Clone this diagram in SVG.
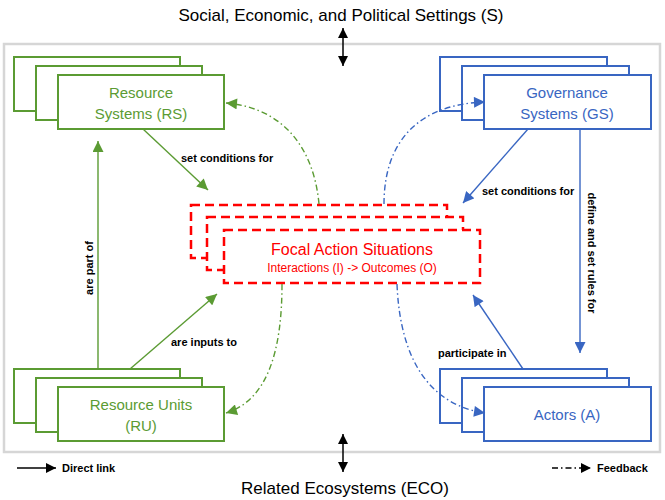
<svg xmlns="http://www.w3.org/2000/svg" width="665" height="500" viewBox="0 0 665 500">
<style>
text{font-family:"Liberation Sans",Arial,sans-serif}
.title{font-size:17px;fill:#000;text-anchor:middle}
.g{fill:#fff;stroke:#5b9b33;stroke-width:2}
.b{fill:#fff;stroke:#3966c2;stroke-width:2}
.r{fill:#fff;stroke:#ff0000;stroke-width:2.5;stroke-dasharray:9 5}
.gt{font-size:15px;fill:#5b9b33;text-anchor:middle}
.bt{font-size:15px;fill:#3966c2;text-anchor:middle}
.lbl{font-size:11px;font-weight:bold;fill:#000}
.gl{stroke:#5b9b33;stroke-width:1.4;fill:none}
.bl{stroke:#3966c2;stroke-width:1.4;fill:none}
.fb{stroke-dasharray:6 3 1.5 3}
.k{stroke:#000;stroke-width:1.5;fill:none}
</style>
<defs>
<marker id="ag" viewBox="0 0 10 10" refX="10" refY="5" markerWidth="12" markerHeight="11" markerUnits="userSpaceOnUse" orient="auto"><path d="M0,0L10,5L0,10z" fill="#5b9b33"/></marker>
<marker id="ab" viewBox="0 0 10 10" refX="10" refY="5" markerWidth="12" markerHeight="11" markerUnits="userSpaceOnUse" orient="auto"><path d="M0,0L10,5L0,10z" fill="#3966c2"/></marker>
<marker id="ak" viewBox="0 0 10 10" refX="10" refY="5" markerWidth="10" markerHeight="10" markerUnits="userSpaceOnUse" orient="auto-start-reverse"><path d="M0,0L10,5L0,10z" fill="#000"/></marker>
</defs>
<rect x="4" y="44" width="656" height="408" fill="#fff" stroke="#d6d6d6" stroke-width="2.5"/>
<text class="title" x="341" y="21">Social, Economic, and Political Settings (S)</text>
<text class="title" x="345" y="494">Related Ecosystems (ECO)</text>

<g id="RS">
<rect class="g" x="14" y="57" width="166" height="54"/>
<rect class="g" x="36" y="66" width="166" height="54"/>
<rect class="g" x="58" y="75" width="166" height="54"/>
<text class="gt" x="141" y="98">Resource</text>
<text class="gt" x="141" y="119">Systems (RS)</text>
</g>
<g id="GS">
<rect class="b" x="440" y="57" width="167" height="54"/>
<rect class="b" x="462" y="66" width="167" height="54"/>
<rect class="b" x="484" y="75" width="167" height="54"/>
<text class="bt" x="567" y="98">Governance</text>
<text class="bt" x="567" y="119">Systems (GS)</text>
</g>
<g id="RU">
<rect class="g" x="14" y="369" width="166" height="54"/>
<rect class="g" x="36" y="378" width="166" height="54"/>
<rect class="g" x="58" y="387" width="166" height="54"/>
<text class="gt" x="141" y="410">Resource Units</text>
<text class="gt" x="141" y="431">(RU)</text>
</g>
<g id="A">
<rect class="b" x="440" y="369" width="167" height="54"/>
<rect class="b" x="462" y="378" width="167" height="54"/>
<rect class="b" x="484" y="387" width="167" height="54"/>
<text class="bt" x="567" y="420">Actors (A)</text>
</g>
<g id="FAS">
<rect class="r" x="191" y="205" width="256" height="53"/>
<rect class="r" x="207" y="217" width="256" height="53"/>
<rect class="r" x="224" y="230" width="256" height="53"/>
<text x="352" y="255" font-size="16" fill="#ff0000" text-anchor="middle">Focal Action Situations</text>
<text x="352" y="272" font-size="12" fill="#ff0000" text-anchor="middle">Interactions (I) -&gt; Outcomes (O)</text>
</g>

<g id="connectors">
<line class="k" x1="343" y1="28" x2="343" y2="66" marker-start="url(#ak)" marker-end="url(#ak)"/>
<line class="k" x1="343" y1="434" x2="343" y2="472" marker-start="url(#ak)" marker-end="url(#ak)"/>
<line class="gl" x1="143" y1="129" x2="208" y2="190" marker-end="url(#ag)"/>
<line class="gl" x1="98" y1="369" x2="98" y2="141" marker-end="url(#ag)"/>
<line class="gl" x1="130" y1="369" x2="217" y2="294" marker-end="url(#ag)"/>
<line class="bl" x1="528" y1="129" x2="463" y2="203" marker-end="url(#ab)"/>
<line class="bl" x1="580" y1="129" x2="580" y2="353" marker-end="url(#ab)"/>
<line class="bl" x1="523" y1="369" x2="473" y2="295" marker-end="url(#ab)"/>
<path class="gl fb" d="M319,204 C314,150 285,108 226,103" marker-end="url(#ag)"/>
<path class="gl fb" d="M282,284 C282,350 268,400 226,413" marker-end="url(#ag)"/>
<path class="bl fb" d="M384,204 C384,140 420,104 485,102" marker-end="url(#ab)"/>
<path class="bl fb" d="M397,284 C400,360 430,405 485,413" marker-end="url(#ab)"/>
<text class="lbl" x="181" y="162">set conditions for</text>
<text class="lbl" x="171" y="346">are inputs to</text>
<text class="lbl" x="482" y="195">set conditions for</text>
<text class="lbl" x="438" y="357">participate in</text>
<text class="lbl" text-anchor="middle" transform="translate(93,268) rotate(-90)">are part of</text>
<text class="lbl" text-anchor="middle" transform="translate(588,253) rotate(90)">define and set rules for</text>
<line class="k" x1="17" y1="468" x2="56" y2="468" marker-end="url(#ak)"/>
<text class="lbl" x="62" y="472">Direct link</text>
<line class="k fb" x1="552" y1="468" x2="591" y2="468" marker-end="url(#ak)" stroke-width="1.2"/>
<text class="lbl" x="597" y="472">Feedback</text>
</g>
</svg>
